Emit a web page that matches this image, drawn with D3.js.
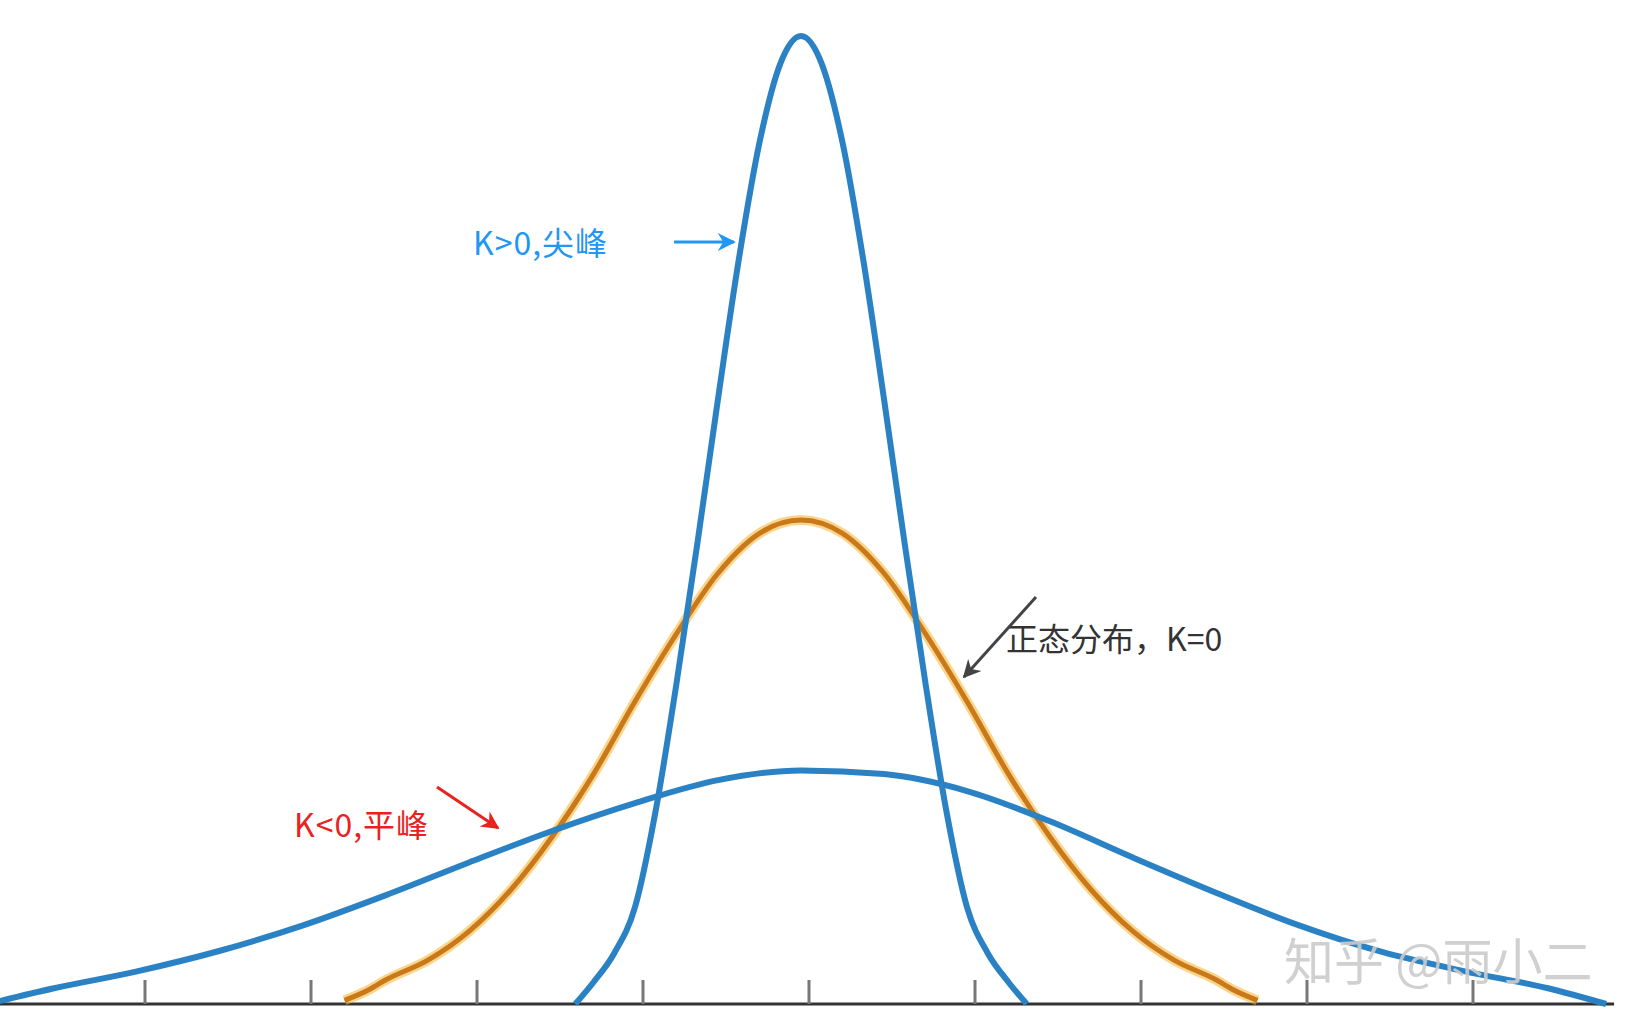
<!DOCTYPE html>
<html><head><meta charset="utf-8">
<script src="https://cdn.jsdelivr.net/npm/d3@7"></script>
<style>body{margin:0;background:#fff}</style>
</head><body>
<script>
// curves, x in tick units from the centre, y in density units
const normalX = [-2.75,-2.6,-2.5,-2.25,-2,-1.75,-1.5,-1.25,-1,-0.75,-0.5,-0.25,0,0.25,0.5,0.75,1,1.25,1.5,1.75,2,2.25,2.5,2.6,2.75];
const normalY = [0.003,0.012,0.02,0.036,0.06,0.094,0.138,0.19,0.25,0.306,0.356,0.389,0.4,0.389,0.356,0.306,0.25,0.19,0.138,0.094,0.06,0.036,0.02,0.012,0.003];
const peakX = [-1.36,-1.25,-1.125,-1,-0.875,-0.75,-0.625,-0.5,-0.375,-0.25,-0.125,0,0.125,0.25,0.375,0.5,0.625,0.75,0.875,1,1.125,1.25,1.36];
const peakY = [0,0.018,0.042,0.08,0.16,0.265,0.38,0.5,0.615,0.712,0.777,0.8,0.777,0.712,0.615,0.5,0.38,0.265,0.16,0.08,0.042,0.018,0];
const flatX = [-4.9,-4.5,-4,-3.5,-3,-2.5,-2,-1.5,-1,-0.5,0,0.5,1,1.5,2,2.5,3,3.5,4,4.5,4.85];
const flatY = [0,0.013,0.027,0.044,0.065,0.09,0.117,0.143,0.166,0.185,0.193,0.19,0.176,0.151,0.121,0.092,0.065,0.043,0.027,0.013,0];
const tickValues = [-4,-3,-2,-1,0,1,2,3,4];

const W = 1630, H = 1032;
const svg = d3.select('body').append('svg').attr('width', W).attr('height', H);

const x = d3.scaleLinear().domain([-5, 5]).range([-21, 1639]);
const xc = d3.scaleLinear().domain([-5, 5]).range([-29, 1631]); // curves sit a little left of the ticks
const y = d3.scaleLinear().domain([0, 0.4]).range([1004, 520]);

const defs = svg.append('defs');
function marker(id, color) {
    defs.append('marker').attr('id', id).attr('viewBox', '0 0 10 10')
        .attr('refX', 9).attr('refY', 5)
        .attr('markerUnits', 'userSpaceOnUse').attr('orient', 'auto')
        .attr('markerWidth', 26).attr('markerHeight', 18)
        .append('path').attr('d', 'M0,0 L10,5 L0,10 L3,5 Z').attr('fill', color);
}
marker('ab', '#2196f3');
marker('ar', '#e8231f');
marker('ag', '#444');

// axis
svg.append('line').attr('x1', x(-4.97)).attr('x2', x(4.85)).attr('y1', y(0)).attr('y2', y(0))
    .attr('stroke', '#333').attr('stroke-width', 3);
svg.append('g').selectAll('line').data(tickValues).join('line')
    .attr('x1', d => x(d)).attr('x2', d => x(d))
    .attr('y1', y(0)).attr('y2', y(0) - 24)
    .attr('stroke', '#777').attr('stroke-width', 3);

const line = d3.line().curve(d3.curveMonotoneX).x(d => xc(d[0])).y(d => y(d[1]));
const pts = (xs, ys) => xs.map((v, i) => [v, ys[i]]);

svg.append('path').datum(pts(normalX, normalY)).attr('d', line)
    .attr('fill', 'none').attr('stroke', '#f5b430').attr('stroke-width', 10).attr('opacity', 0.55);
svg.append('path').datum(pts(normalX, normalY)).attr('d', line)
    .attr('fill', 'none').attr('stroke', '#c9781a').attr('stroke-width', 5);
svg.append('path').datum(pts(flatX, flatY)).attr('d', line)
    .attr('fill', 'none').attr('stroke', '#2a82c4').attr('stroke-width', 6);
svg.append('path').datum(pts(peakX, peakY)).attr('d', line)
    .attr('fill', 'none').attr('stroke', '#2a82c4').attr('stroke-width', 6);

// labels
const font = '"Noto Sans CJK SC", "Noto Sans", sans-serif';
svg.append('text').attr('x', 473).attr('y', 255).text('K>0,尖峰')
    .attr('font-family', font).attr('font-size', 32).attr('letter-spacing', 1).attr('fill', '#2196f3');
svg.append('line').attr('x1', 674).attr('y1', 242).attr('x2', 734).attr('y2', 242)
    .attr('stroke', '#2196f3').attr('stroke-width', 3).attr('marker-end', 'url(#ab)');
svg.append('text').attr('x', 1006).attr('y', 651).text('正态分布，K=0')
    .attr('font-family', font).attr('font-size', 32).attr('fill', '#333');
svg.append('line').attr('x1', 1036).attr('y1', 597).attr('x2', 964).attr('y2', 677)
    .attr('stroke', '#444').attr('stroke-width', 3).attr('marker-end', 'url(#ag)');
svg.append('text').attr('x', 294).attr('y', 837).text('K<0,平峰')
    .attr('font-family', font).attr('font-size', 32).attr('letter-spacing', 1).attr('fill', '#e8231f');
svg.append('line').attr('x1', 437).attr('y1', 787).attr('x2', 498).attr('y2', 828)
    .attr('stroke', '#e8231f').attr('stroke-width', 3).attr('marker-end', 'url(#ar)');
svg.append('text').attr('x', 1284).attr('y', 980).text('知乎 @雨小二')
    .attr('font-family', font).attr('font-size', 50).attr('fill', '#ccc').attr('opacity', 0.9);
</script>
</body></html>
